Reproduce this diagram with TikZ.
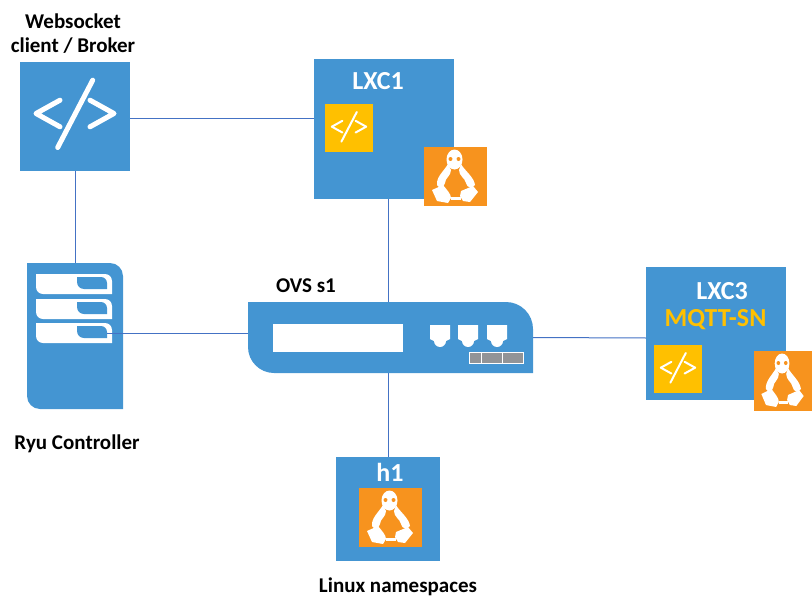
\documentclass[tikz,border=0pt]{standalone}
\usepackage{fontspec}
\setmainfont{Carlito}
\definecolor{bluebox}{HTML}{4495D2}
\definecolor{tuxorange}{HTML}{F7931E}
\definecolor{codeyellow}{HTML}{FFC000}
\definecolor{linkblue}{HTML}{4472C4}
\definecolor{portgrey}{HTML}{929497}
\tikzset{
  x=1pt,y=-1pt,
  box/.style={fill=#1,inner sep=0pt,outer sep=0pt,anchor=north west},
  link/.style={draw=linkblue,line width=1pt},
  label/.style={font=\fontsize{21}{24}\selectfont\bfseries,align=center,text=black,inner sep=0pt},
  biglabel/.style={label,font=\fontsize{26}{30}\selectfont\bfseries,text=white},
  tux/.pic={
    \fill[white] (30.5,12.5) ellipse [x radius=8,y radius=10];
    \fill[white] (24,17) .. controls (20,24) and (12,30) .. (13,38) .. controls (15,42) and (20,41) .. (21,36) .. controls (21,31) and (27,29) .. (27,23) -- cycle;
    \fill[white] (37,17) .. controls (41,24) and (50,30) .. (51,38) .. controls (48,42) and (43,41) .. (42,36) .. controls (41,31) and (35,29) .. (35,23) -- cycle;
    \fill[white] (8,43) -- (19,38) .. controls (23,43) and (27,47) .. (27,51) -- (24,56) -- (13,54) -- cycle;
    \fill[white] (37,44) -- (49,39) -- (54,45) -- (46,55) -- (39,54) -- (36,49) -- cycle;
    \fill[white] (27,50) rectangle (37,53);
    \fill[tuxorange] (26.5,12) circle [radius=2];
    \fill[tuxorange] (34.5,12) circle [radius=2];
    \fill[white] (28,12.5) -- (33,12.5) -- (30.5,15.5) -- cycle;
  },
  codeicon/.pic={
    \draw[white,line width=#1,line cap=round,line join=round]
      (-15,-16.3) -- (-39,-3) -- (-15,10.3)
      (15,-16.3) -- (39,-3) -- (15,10.3)
      (17.7,-36.3) -- (-17.3,31);
  },
  port/.pic={
    \fill[white] (-10,0) -- (10,0) -- (10,14) -- (6,16) arc [start angle=0,end angle=180,radius=6] -- (-10,14) -- cycle;
  }
}
\begin{document}
\begin{tikzpicture}
\useasboundingbox (0,0) rectangle (812,597);

% placement of the nodes
\node[box=bluebox,minimum width=110pt,minimum height=109pt] (ws) at (20,62) {};
\node[box=bluebox,minimum width=140pt,minimum height=140pt] (lxc1) at (314,59) {};
\node[inner sep=0pt,outer sep=0pt,minimum width=96pt,minimum height=146pt,anchor=north west] (ryu) at (27,263) {};
\node[inner sep=0pt,outer sep=0pt,minimum width=285pt,minimum height=71pt,anchor=north west] (ovs) at (248,302) {};
\node[box=bluebox,minimum width=140pt,minimum height=133pt] (lxc3) at (646,267) {};
\node[box=bluebox,minimum width=104pt,minimum height=104pt] (h1) at (336,457) {};

% connectors
\draw[link] ([yshift=-2pt]ws.east) -- ([yshift=10.5pt]lxc1.west);
\draw[link] (ws.south) -- (ryu.north);
\draw[link] ([xshift=4pt]lxc1.south) -- ([xshift=-2.5pt]ovs.north);
\draw[link] ([xshift=-2.5pt]ovs.south) -- (h1.north);
\draw[link] (ovs.east) -- ([yshift=-4.5pt]lxc3.west);

% Websocket client
\pic at (ws.center) {codeicon=5pt};

% LXC1
\node[box=codeyellow,minimum width=48pt,minimum height=48pt] (c1) at (325,104) {};
\pic[scale=.44] at (c1.center) {codeicon=2pt};
\node[box=tuxorange,minimum width=63pt,minimum height=59pt] (t1) at (424,147) {};
\pic at (t1.north west) {tux};

% Ryu server
\fill[bluebox] (ryu.north west) -- (110,263) arc [start angle=-90,end angle=0,radius=13] -- (ryu.south east) -- (40,409) arc [start angle=90,end angle=180,radius=13] -- cycle;
\foreach \ty in {274,299,323} {
  \fill[white] (36,\ty) -- (105,\ty) arc [start angle=-90,end angle=0,radius=7] -- (112,\ty+20) -- (43,\ty+20) arc [start angle=90,end angle=180,radius=7] -- cycle;
  \fill[bluebox] (77,\ty+3) -- (101,\ty+3) arc [start angle=-90,end angle=0,radius=6] -- (107,\ty+15) -- (84,\ty+15) arc [start angle=90,end angle=180,radius=7] -- cycle;
}
\draw[link] ([xshift=-16pt,yshift=3pt]ryu.east) -- ([yshift=4.5pt]ovs.west);

% OVS switch
\fill[bluebox] (ovs.north west) -- (506,302) arc [start angle=-90,end angle=0,radius=27] -- (ovs.south east) -- (274,373) arc [start angle=90,end angle=180,radius=26] -- cycle;
\node[box=white,minimum width=130pt,minimum height=28pt] (panel) at (273,324) {};
\pic at (440,325) {port};
\pic at (468,325) {port};
\pic at (497,325) {port};
\node[box=portgrey,draw=white,line width=.8pt,minimum width=12pt,minimum height=11pt] (g1) at (469,352) {};
\node[box=portgrey,draw=white,line width=.8pt,minimum width=21pt,minimum height=11pt] (g2) at (481,352) {};
\node[box=portgrey,draw=white,line width=.8pt,minimum width=21pt,minimum height=11pt] (g3) at (502,352) {};

% LXC3
\node[box=codeyellow,minimum width=48pt,minimum height=48pt] (c3) at (654,345) {};
\pic[scale=.44] at (c3.center) {codeicon=2pt};
\node[box=tuxorange,minimum width=58pt,minimum height=60pt] (t3) at (754,351) {};
\pic[xscale=.92] at (t3.north west) {tux};

% h1
\node[box=tuxorange,minimum width=63pt,minimum height=59pt] (t4) at (359,488) {};
\pic at (t4.north west) {tux};

% labels
\node[label] (lws) at (73,34) {Websocket\\client / Broker};
\node[biglabel] (l1) at (378,81) {LXC1};
\node[label] (lovs) at (306,286) {OVS s1};
\node[label] (lryu) at (77,444) {Ryu Controller};
\node[biglabel] (l3) at (722,291) {LXC3};
\node[biglabel,text=codeyellow] (lm) at (715.5,320) {MQTT-SN};
\node[biglabel] (lh) at (390,472) {h1};
\node[label] (lns) at (398,586.5) {Linux namespaces};
\end{tikzpicture}
\end{document}
